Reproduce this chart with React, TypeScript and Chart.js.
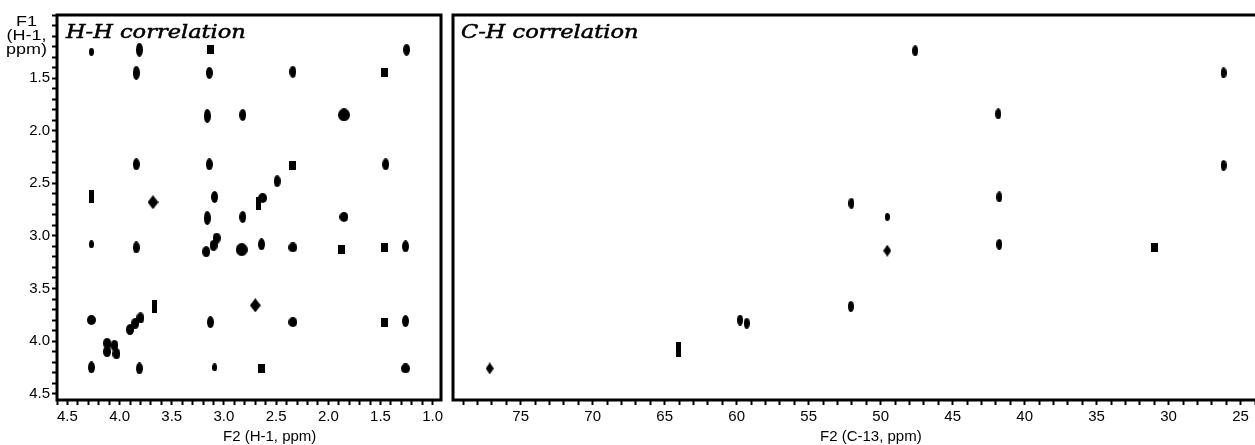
import React, { useEffect, useRef } from "react";
import { Chart, registerables } from "chart.js";

Chart.register(...registerables);

// ---------- DATA (ppm values) ----------
// H-H correlation peaks, [F2 (H-1 ppm), F1 (H-1 ppm)], grouped by contour look
const HH_OVAL = [
  [4.27, 4.25], [3.81, 4.26], [1.26, 3.81], [1.26, 3.1], [3.13, 3.82], [2.64, 3.08],
  [3.84, 3.11], [1.45, 2.32], [3.84, 2.32], [2.34, 1.44], [1.25, 1.23], [2.82, 2.82],
  [2.82, 1.85], [3.09, 2.63], [2.49, 2.48], [3.14, 2.32], [3.14, 1.45],
];
const HH_TALL = [[3.81, 1.23], [3.84, 1.45], [3.16, 1.86], [3.16, 2.83]];
const HH_ROUND = [[4.27, 3.8], [2.34, 3.82], [2.34, 3.11], [1.26, 4.26], [1.85, 2.82], [2.63, 2.64]];
const HH_BIG = [[1.85, 1.85], [2.83, 3.13]];
const HH_SQUARE = [[1.87, 3.13], [1.46, 3.11], [1.46, 3.82], [2.64, 4.26], [2.34, 2.33], [3.13, 1.23], [1.46, 1.45]];
const HH_BAR = [[4.27, 2.63], [3.67, 3.67], [2.67, 2.69]];
const HH_SMALL = [[4.27, 1.25], [4.27, 3.08], [3.09, 4.25]];
const HH_DIAMOND = [[3.68, 2.68], [2.7, 3.66]];
const HH_CLUSTER = [
  [3.07, 3.02], [3.1, 3.09], [3.17, 3.15],
  [3.8, 3.78], [3.85, 3.83], [3.9, 3.89],
  [4.12, 4.02], [4.12, 4.1], [4.05, 4.04], [4.03, 4.12],
];

// C-H correlation peaks, [F2 (C-13 ppm), F1 (H-1 ppm)]
const CH_OVAL = [
  [59.76, 3.8], [59.3, 3.83], [52.07, 3.67], [52.03, 2.69], [47.6, 1.24], [41.83, 1.84],
  [41.76, 2.63], [41.76, 3.08], [26.18, 1.45], [26.18, 2.33],
];
const CH_DIAMOND = [[77.15, 4.26], [49.54, 3.14]];
const CH_BAR = [[64.04, 4.08]];
const CH_SQUARE = [[30.96, 3.11]];
const CH_SMALL = [[49.54, 2.82]];

// Axis ranges and tick settings
const F1_RANGE = [0.9, 4.56];
const HH_F2_RANGE = [0.92, 4.6];
const CH_F2_RANGE = [21.5, 79.7];
const HH_MINOR_STEP = 0.1;
const HH_LABEL_EVERY = 0.5;
const F1_FIRST_LABEL = 1.5;
const CH_MINOR_STEP = 1;
const CH_LABEL_EVERY = 5;

const TICK_FONT = { family: "'Liberation Sans', Arial, Helvetica, sans-serif", size: 15 };

function peakImage(kind: string, w: number, h: number) {
  const c = document.createElement("canvas");
  c.width = w;
  c.height = h;
  const g = c.getContext("2d")!;
  g.fillStyle = "#000";
  g.beginPath();
  if (kind === "ellipse") g.ellipse(w / 2, h / 2, w / 2, h / 2, 0, 0, Math.PI * 2);
  else if (kind === "rect") g.rect(0, 0, w, h);
  else {
    g.moveTo(w / 2, 0);
    g.lineTo(w, h / 2);
    g.lineTo(w / 2, h);
    g.lineTo(0, h / 2);
    g.closePath();
  }
  g.fill();
  return c;
}

function ds(label: string, pts: number[][], img: HTMLCanvasElement) {
  return {
    type: "scatter" as const,
    label,
    data: pts.map(([x, y]) => ({ x, y })),
    pointStyle: img,
    pointRadius: 5,
    showLine: false,
  };
}

const framePlugin = {
  id: "frame",
  afterDraw(chart: any) {
    const { ctx, chartArea: a } = chart;
    ctx.save();
    ctx.strokeStyle = "#000";
    ctx.lineWidth = 3;
    ctx.strokeRect(a.left, a.top, a.right - a.left, a.bottom - a.top);
    ctx.restore();
  },
};

function isMult(v: number, step: number) {
  return Math.abs(v / step - Math.round(v / step)) < 1e-6;
}

function tickGrid() {
  return {
    drawOnChartArea: false,
    drawTicks: true,
    tickLength: 5,
    tickWidth: 2,
    tickColor: "#000",
    color: "#000",
  };
}

export default function App() {
  const leftRef = useRef<HTMLCanvasElement>(null);
  const rightRef = useRef<HTMLCanvasElement>(null);

  useEffect(() => {
    const hh = new Chart(leftRef.current!, {
      type: "scatter",
      data: {
        datasets: [
          ds("oval", HH_OVAL, peakImage("ellipse", 7, 12)),
          ds("tall", HH_TALL, peakImage("ellipse", 7, 14)),
          ds("round", HH_ROUND, peakImage("ellipse", 9, 10)),
          ds("big", HH_BIG, peakImage("ellipse", 12, 13)),
          ds("square", HH_SQUARE, peakImage("rect", 7, 9)),
          ds("bar", HH_BAR, peakImage("rect", 5, 13)),
          ds("small", HH_SMALL, peakImage("ellipse", 5, 8)),
          ds("diamond", HH_DIAMOND, peakImage("diamond", 11, 14)),
          ds("cluster", HH_CLUSTER, peakImage("ellipse", 8, 11)),
        ],
      },
      options: {
        responsive: false,
        animation: false,
        layout: { padding: { left: 0, top: 15, right: 6, bottom: 0 } },
        plugins: { legend: { display: false }, tooltip: { enabled: false } },
        scales: {
          x: {
            type: "linear",
            reverse: true,
            min: HH_F2_RANGE[0],
            max: HH_F2_RANGE[1],
            afterFit: (s: any) => { s.height = 45; },
            grid: tickGrid(),
            border: { display: false },
            ticks: {
              stepSize: HH_MINOR_STEP,
              includeBounds: false,
              autoSkip: false,
              maxRotation: 0,
              padding: 3,
              color: "#000",
              font: TICK_FONT,
              callback: (v: any) => (isMult(+v, HH_LABEL_EVERY) ? (+v).toFixed(1) : ""),
            },
          },
          y: {
            type: "linear",
            reverse: true,
            min: F1_RANGE[0],
            max: F1_RANGE[1],
            afterFit: (s: any) => { s.width = 57; },
            grid: tickGrid(),
            border: { display: false },
            ticks: {
              stepSize: HH_MINOR_STEP,
              includeBounds: false,
              autoSkip: false,
              padding: 2,
              color: "#000",
              font: TICK_FONT,
              callback: (v: any) =>
                isMult(+v, HH_LABEL_EVERY) && +v >= F1_FIRST_LABEL - 1e-6 ? (+v).toFixed(1) : "",
            },
          },
        },
      },
      plugins: [framePlugin],
    } as any);

    const ch = new Chart(rightRef.current!, {
      type: "scatter",
      data: {
        datasets: [
          ds("oval", CH_OVAL, peakImage("ellipse", 6, 11)),
          ds("diamond", CH_DIAMOND, peakImage("diamond", 8, 12)),
          ds("bar", CH_BAR, peakImage("rect", 5, 15)),
          ds("square", CH_SQUARE, peakImage("rect", 7, 9)),
          ds("small", CH_SMALL, peakImage("ellipse", 5, 8)),
        ],
      },
      options: {
        responsive: false,
        animation: false,
        layout: { padding: { left: 5, top: 15, right: 4, bottom: 0 } },
        plugins: { legend: { display: false }, tooltip: { enabled: false } },
        scales: {
          x: {
            type: "linear",
            reverse: true,
            min: CH_F2_RANGE[0],
            max: CH_F2_RANGE[1],
            afterFit: (s: any) => { s.height = 45; },
            grid: tickGrid(),
            border: { display: false },
            ticks: {
              stepSize: CH_MINOR_STEP,
              includeBounds: false,
              autoSkip: false,
              maxRotation: 0,
              padding: 3,
              color: "#000",
              font: TICK_FONT,
              callback: (v: any) => (isMult(+v, CH_LABEL_EVERY) ? String(Math.round(+v)) : ""),
            },
          },
          y: {
            type: "linear",
            display: false,
            reverse: true,
            min: F1_RANGE[0],
            max: F1_RANGE[1],
          },
        },
      },
      plugins: [framePlugin],
    } as any);

    return () => {
      hh.destroy();
      ch.destroy();
    };
  }, []);

  const sans = "'Liberation Sans', Arial, Helvetica, sans-serif";
  const titleStyle: React.CSSProperties = {
    position: "absolute",
    top: 23,
    fontFamily: "'DejaVu Serif', serif",
    fontStyle: "italic",
    fontSize: 18,
    lineHeight: "18px",
    whiteSpace: "nowrap",
    transform: "scaleX(1.25)",
    transformOrigin: "left top",
    WebkitTextStroke: "0.5px #000",
    color: "#000",
  };
  const axisTitle: React.CSSProperties = {
    position: "absolute",
    top: 428,
    fontFamily: sans,
    fontSize: 15,
    lineHeight: "15px",
    whiteSpace: "nowrap",
    color: "#000",
  };

  return (
    <div
      style={{
        position: "fixed",
        left: 0,
        top: 0,
        width: 1255,
        height: 445,
        overflow: "hidden",
        background: "#fff",
      }}
    >
      <canvas ref={leftRef} width={447} height={445} style={{ position: "absolute", left: 0, top: 0 }} />
      <canvas ref={rightRef} width={850} height={445} style={{ position: "absolute", left: 447, top: 0 }} />
      <div
        style={{
          position: "absolute",
          left: 0,
          top: 14,
          width: 44,
          textAlign: "center",
          fontFamily: sans,
          fontSize: 15,
          lineHeight: "14px",
          color: "#000",
          transform: "scaleX(1.2)",
          transformOrigin: "left top",
        }}
      >
        F1
        <br />
        (H-1,
        <br />
        ppm)
      </div>
      <div style={{ ...titleStyle, left: 66 }}>H-H correlation</div>
      <div style={{ ...titleStyle, left: 461 }}>C-H correlation</div>
      <div style={{ ...axisTitle, left: 223 }}>F2 (H-1, ppm)</div>
      <div style={{ ...axisTitle, left: 820 }}>F2 (C-13, ppm)</div>
    </div>
  );
}
